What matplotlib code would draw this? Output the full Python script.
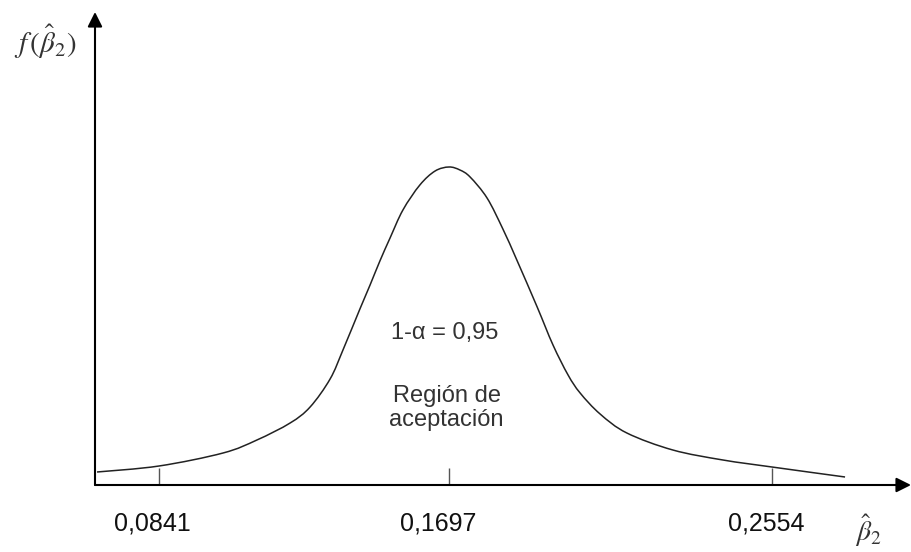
"""
Sampling distribution of beta_2 hat with the 95% acceptance region.

Saves out.png (912x552).
"""

import numpy as np
import matplotlib.pyplot as plt
from matplotlib.path import Path
from matplotlib.patches import PathPatch
from matplotlib.transforms import ScaledTranslation

plt.rcParams["font.family"] = ["Liberation Sans", "DejaVu Sans"]
plt.rcParams["mathtext.fontset"] = "stix"

# ---- data (curve height in arbitrary units) ----
beta_hat = [0.0658, 0.0841, 0.1030, 0.1130, 0.1228, 0.1287, 0.1346, 0.1384,
            0.1434, 0.1464, 0.1493, 0.1523, 0.1561, 0.1611, 0.1656, 0.1697,
            0.1726, 0.1753, 0.1798, 0.1840, 0.1877, 0.1931, 0.1973, 0.2013,
            0.2045, 0.2098, 0.2169, 0.2291, 0.2424, 0.2554, 0.2748]
density = [13, 19, 32, 45, 62, 78, 106, 135,
           176, 200, 224, 247, 275, 300, 314, 318,
           315, 308, 287, 256, 225, 178, 140, 110,
           92, 71, 52, 35, 25, 18, 8]

tick_values = [0.0841, 0.1697, 0.2554]
tick_labels = ["0,0841", "0,1697", "0,2554"]

CENTER = 0.1697
LEFT_STEP = 0.00029517   # beta units per pixel, left of centre
RIGHT_STEP = 0.00026533  # right of centre (drawing is slightly uneven)


def fwd(x):
    x = np.asarray(x, dtype=float)
    return np.where(x < CENTER, (x - CENTER) / LEFT_STEP, (x - CENTER) / RIGHT_STEP)


def inv(p):
    p = np.asarray(p, dtype=float)
    return np.where(p < 0, CENTER + p * LEFT_STEP, CENTER + p * RIGHT_STEP)


def smooth_path(xs, ys):
    """Bezier path through the points (Catmull-Rom tangents in pixel space)."""
    pts = np.column_stack([fwd(xs), ys])
    n = len(pts)
    verts = [pts[0]]
    codes = [Path.MOVETO]
    for i in range(n - 1):
        p_prev = pts[max(i - 1, 0)]
        p_next2 = pts[min(i + 2, n - 1)]
        c1 = pts[i] + (pts[i + 1] - p_prev) / 6
        c2 = pts[i + 1] - (p_next2 - pts[i]) / 6
        verts += [c1, c2, pts[i + 1]]
        codes += [Path.CURVE4] * 3
    verts = np.array(verts)
    verts[:, 0] = inv(verts[:, 0])
    return Path(verts, codes)


def main() -> None:
    fig = plt.figure(figsize=(9.12, 5.52), dpi=100)
    ax = fig.add_axes([95 / 912, 67 / 552, 816 / 912, 473 / 552])

    ax.set_xscale("function", functions=(fwd, inv))
    ax.set_xlim(0.0652, 0.2923)
    ax.set_ylim(0, 473)

    curve = PathPatch(smooth_path(beta_hat, density), fill=False,
                      edgecolor="#222222", linewidth=1.1)
    ax.add_patch(curve)

    # ---- axes drawn as arrows ----
    for sp in ax.spines.values():
        sp.set_visible(False)
    arrow = dict(arrowstyle="-|>", lw=1.5, color="black",
                 mutation_scale=22, shrinkA=0, shrinkB=0)
    ax.annotate("", xy=(1, 0), xytext=(0, 0), xycoords="axes fraction",
                arrowprops=arrow)
    ax.annotate("", xy=(0, 1), xytext=(0, 0), xycoords="axes fraction",
                arrowprops=arrow)

    ax.set_yticks([])
    ax.set_xticks(tick_values)
    ax.set_xticklabels(tick_labels)
    ax.xaxis.set_minor_locator(plt.NullLocator())
    ax.tick_params(axis="x", direction="in", length=12, width=1.0,
                   color="#555555", pad=19, labelsize=18, labelcolor="#111111")
    # labels sit a little left of their ticks in the reference
    shifts = [-7, -11, -6]
    for lab, dx in zip(ax.get_xticklabels(), shifts):
        lab.set_transform(lab.get_transform()
                          + ScaledTranslation(dx / 100, 0, fig.dpi_scale_trans))

    # ---- annotations ----
    ax.text(0.1685, 152, "1-\u03b1 = 0,95", ha="center", va="center",
            fontsize=17, color="#333333")
    ax.text(0.1690, 77, "Región de\naceptación", ha="center", va="center",
            fontsize=17, color="#333333", linespacing=1.1)

    fig.text(14 / 912, 1 - 42 / 552, r"$f\,(\hat{\beta}_2)$",
             ha="left", va="center", fontsize=21, color="#333333")
    fig.text(855 / 912, 1 - 531 / 552, r"$\hat{\beta}_2$",
             ha="left", va="center", fontsize=20, color="#333333")

    fig.savefig("out.png", dpi=100)
    plt.close(fig)


if __name__ == "__main__":
    main()
